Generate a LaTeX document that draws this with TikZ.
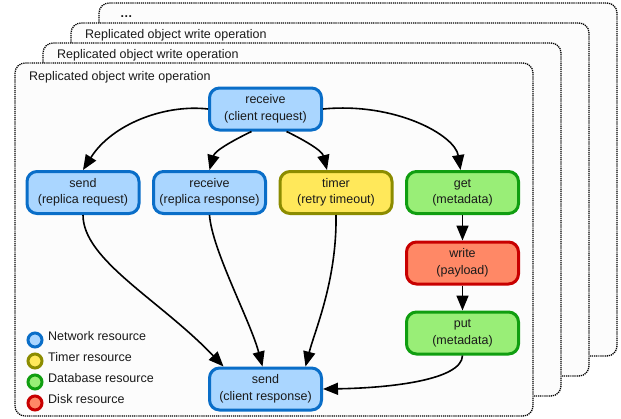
\documentclass[tikz,border=0pt]{standalone}
\usepackage{fontspec}
\setmainfont{Liberation Sans}
\usetikzlibrary{arrows.meta}
\definecolor{netfill}{HTML}{AAD6FF}
\definecolor{netdraw}{HTML}{0A6EC8}
\definecolor{timfill}{HTML}{FFE85A}
\definecolor{timdraw}{HTML}{8C8C00}
\definecolor{dbfill}{HTML}{99EE77}
\definecolor{dbdraw}{HTML}{109E10}
\definecolor{dskfill}{HTML}{FF8866}
\definecolor{dskdraw}{HTML}{C80000}
\definecolor{framefill}{HTML}{FCFCFC}
\definecolor{txt}{HTML}{1A1A1A}
\begin{document}
\begin{tikzpicture}[x=1pt,y=-1pt,
  frame/.style={draw=black, fill=framefill, line width=1.3pt, dash pattern=on 1.2pt off 0.9pt, rounded corners=10pt},
  framelabel/.style={anchor=base west, inner sep=0pt, text=txt, font=\fontsize{12.5}{15}\selectfont},
  box/.style={rectangle, rounded corners=10pt, line width=3pt, minimum width=112pt, minimum height=42pt,
    align=center, inner sep=0pt, text=txt, font=\fontsize{12.5}{16.5}\selectfont},
  net/.style={box, draw=netdraw, fill=netfill},
  tim/.style={box, draw=timdraw, fill=timfill},
  db/.style={box, draw=dbdraw, fill=dbfill},
  dsk/.style={box, draw=dskdraw, fill=dskfill},
  dot/.style={circle, line width=3pt, minimum size=14pt, inner sep=0pt},
  legtext/.style={anchor=base west, inner sep=0pt, text=txt, font=\fontsize{12.5}{15}\selectfont},
  arr/.style={-{Triangle[length=15pt,width=12pt]}, line width=1.6pt, black}
]
\useasboundingbox (0,0) rectangle (621,418);
% stacked frames
\draw[frame] (99,3) rectangle (617,356);
\node[framelabel] (dots) at (120,17) {\textbf{\dots}};
\draw[frame] (71,23) rectangle (589,376);
\node[framelabel] (l3) at (85,38) {Replicated object write operation};
\draw[frame] (43,43) rectangle (561,396);
\node[framelabel] (l2) at (57,58) {Replicated object write operation};
\draw[frame] (15,63) rectangle (533,416);
\node[framelabel] (l1) at (29,80) {Replicated object write operation};

% nodes
\node[net] (rcr) at (265.5,109) {receive\\(client request)};
\node[net] (srr) at (83,192.5) {send\\(replica request)};
\node[net] (rrr) at (209.5,192.5) {receive\\(replica response)};
\node[tim] (tmr) at (336,192.5) {timer\\(retry timeout)};
\node[db] (get) at (462.5,192.5) {get\\(metadata)};
\node[dsk] (wrt) at (462.5,263) {write\\(payload)};
\node[db] (put) at (462.5,333) {put\\(metadata)};
\node[net] (scr) at (265.5,389) {send\\(client response)};

% edges
\draw[arr] (rcr.west) .. controls (165,104) and (112,124) .. (srr.north);
\draw[arr] ([xshift=-14pt]rcr.south) .. controls (238,138) and (215,150) .. (rrr.north);
\draw[arr] ([xshift=21pt]rcr.south) .. controls (300,138) and (322,150) .. ([xshift=-9pt]tmr.north);
\draw[arr] (rcr.east) .. controls (395,102) and (455,135) .. ([xshift=-2pt]get.north);
\draw[arr] (srr.south) .. controls (83,260) and (160,300) .. ([xshift=-42pt]scr.north);
\draw[arr] (rrr.south) .. controls (212,250) and (250,320) .. ([xshift=-3pt]scr.north);
\draw[arr] (tmr.south) .. controls (337,280) and (315,330) .. ([xshift=40pt]scr.north);
\draw[arr] (get.south) -- (wrt.north);
\draw[arr] (wrt.south) -- (put.north);
\draw[arr] (put.south) .. controls (462,380) and (390,388) .. (scr.east);

% legend
\node[dot, draw=netdraw, fill=netfill] (c1) at (35,340) {};
\node[legtext] (t1) at (48,340) {Network resource};
\node[dot, draw=timdraw, fill=timfill] (c2) at (35,361) {};
\node[legtext] (t2) at (48,361) {Timer resource};
\node[dot, draw=dbdraw, fill=dbfill] (c3) at (35,382) {};
\node[legtext] (t3) at (48,382) {Database resource};
\node[dot, draw=dskdraw, fill=dskfill] (c4) at (35,403) {};
\node[legtext] (t4) at (48,403) {Disk resource};
\end{tikzpicture}
\end{document}
